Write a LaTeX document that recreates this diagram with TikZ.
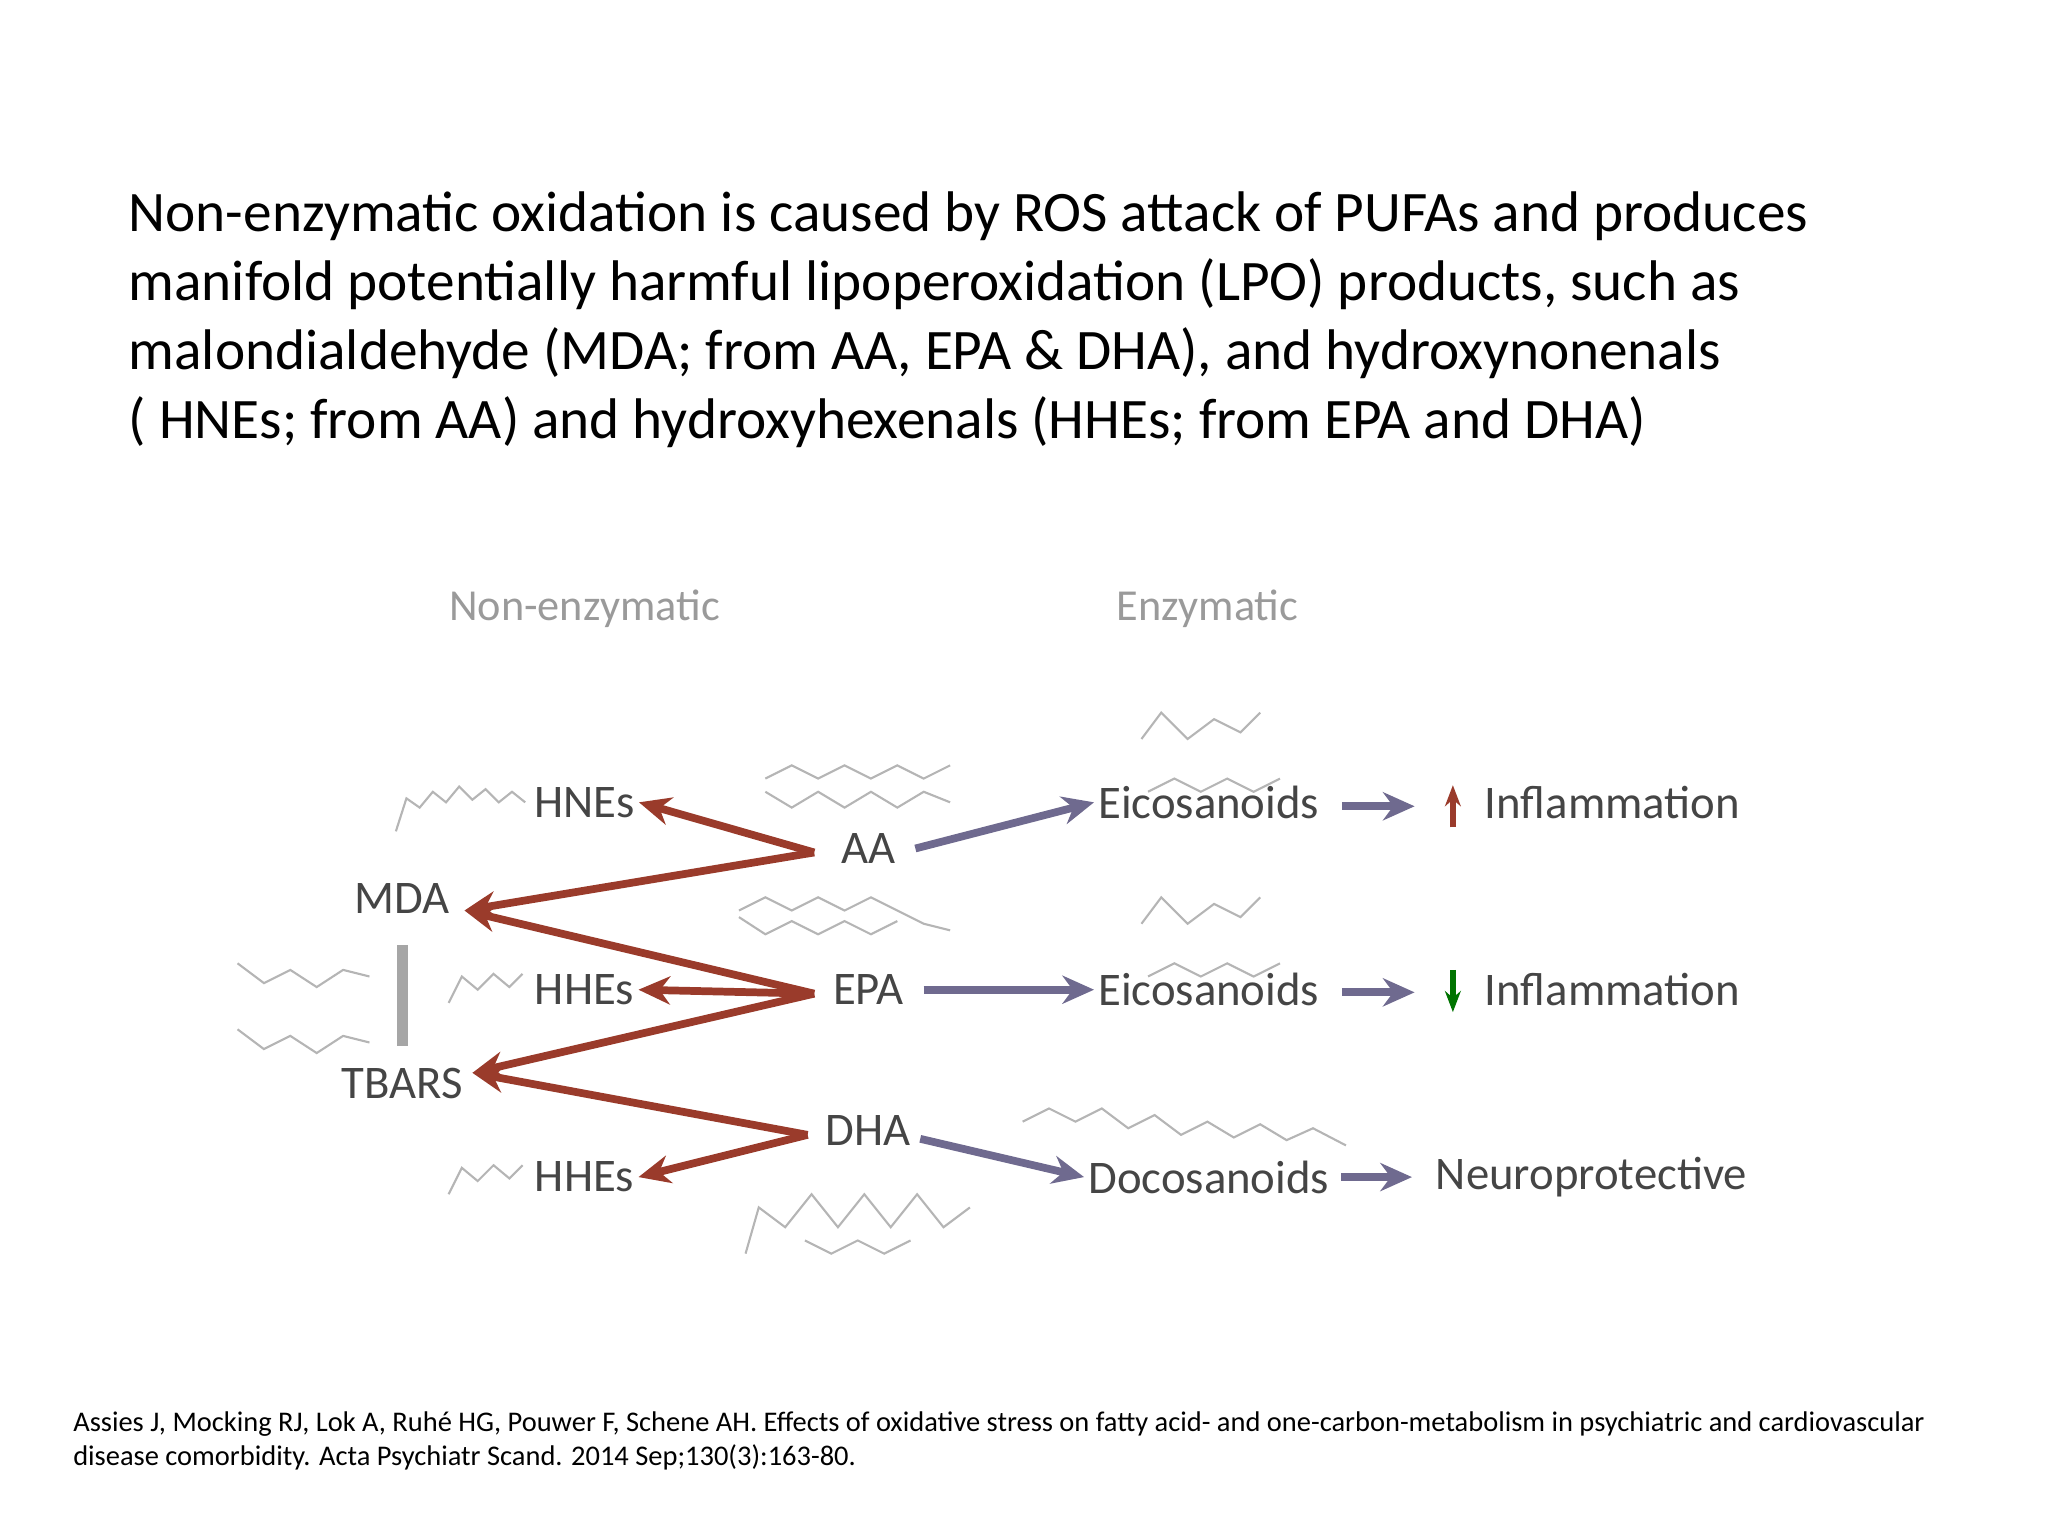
\documentclass[tikz,border=0pt]{standalone}
\usepackage{fontspec}
\setmainfont{Carlito}
\usetikzlibrary{arrows.meta}
\definecolor{rust}{HTML}{9A3B2B}
\definecolor{pur}{HTML}{6F6A8F}
\definecolor{lbl}{HTML}{454545}
\definecolor{hdr}{HTML}{9A9A9A}
\definecolor{chem}{HTML}{B5B5B5}
\tikzset{
 lab/.style={text=lbl,font=\fontsize{13.3}{15}\selectfont,inner sep=1pt},
 hd/.style={text=hdr,font=\fontsize{12.6}{14}\selectfont},
 rarr/.style={draw=rust,line width=2.2pt,-{Stealth[length=9pt,width=8pt]}},
 parr/.style={draw=pur,line width=2.2pt,-{Stealth[length=9pt,width=8pt]}},
 chm/.style={draw=chem,line width=0.6pt}
}
\begin{document}
\begin{tikzpicture}[x=0.013196cm,y=-0.013196cm]
\useasboundingbox (0,0) rectangle (1552,1164);
\node[anchor=north west,align=left,inner sep=0,font=\fontsize{16.3}{19.6}\selectfont] (title) at (97,145)
{Non-enzymatic oxidation is caused by ROS attack of PUFAs and produces\\
manifold potentially harmful lipoperoxidation (LPO) products, such as\\
malondialdehyde (MDA; from AA, EPA \& DHA), and hydroxynonenals\\
( HNEs; from AA) and hydroxyhexenals (HHEs; from EPA and DHA)};
\node[hd] (h1) at (443,461) {Non-enzymatic};
\node[hd] (h2) at (915,461) {Enzymatic};
\node[lab] (hne) at (443,608) {HNEs};
\node[lab] (mda) at (305,681) {MDA};
\node[lab] (hhe1) at (443,750) {HHEs};
\node[lab] (tbars) at (305,821) {TBARS};
\node[lab] (hhe2) at (443,892) {HHEs};
\node[lab] (aa) at (658,643) {AA};
\node[lab] (epa) at (658,750) {EPA};
\node[lab] (dha) at (658,857) {DHA};
\node[lab] (e1) at (916,608) {Eicosanoids};
\node[lab] (e2) at (916,750) {Eicosanoids};
\node[lab] (d1) at (916,892) {Docosanoids};
\node[lab,anchor=west] (i1) at (1122,608) {Inflammation};
\node[lab,anchor=west] (i2) at (1122,750) {Inflammation};
\node[lab,anchor=west] (np) at (1085,892) {Neuroprotective};
\coordinate (aaL) at (617,646);
\coordinate (epaL) at (617,753);
\coordinate (dhaL) at (612,860);
\draw[rarr] (aaL) -- (hne.east);
\draw[rarr] (aaL) -- (352,690);
\draw[rarr] (epaL) -- (352,690);
\draw[rarr] (epaL) -- (hhe1.east);
\draw[rarr] (epaL) -- (358,813);
\draw[rarr] (dhaL) -- (358,813);
\draw[rarr] (dhaL) -- (hhe2.east);
\draw[parr] (aa.east) ++(12,0) -- (e1.west);
\draw[parr] (epa.east) ++(12,0) -- (e2.west);
\draw[parr] (dha.east) ++(4,6) -- (d1.west);
\draw[parr] (e1.east) ++(14,3) -- (1072,611);
\draw[parr] (e2.east) ++(14,2) -- (1072,752);
\draw[parr] (d1.east) ++(6,0) -- (1070,892);
\draw[draw=rust,line width=1.6pt,-{Stealth[length=6pt]}] (1101,627) -- (1101,595);
\draw[draw=green!45!black,line width=1.6pt,-{Stealth[length=6pt]}] (1101,735) -- (1101,767);
\draw[draw=gray!70,line width=3pt] (305,716) -- (305,793);
% chemical sketches
\draw[chm] (300,630) -- (308,605) -- (318,612) -- (328,600) -- (338,608) -- (348,596) -- (358,606) -- (368,598) -- (378,608) -- (388,600) -- (398,608);
\draw[chm] (580,590) -- (600,580) -- (620,590) -- (640,580) -- (660,590) -- (680,580) -- (700,590) -- (720,580);
\draw[chm] (580,600) -- (600,612) -- (620,600) -- (640,612) -- (660,600) -- (680,612) -- (700,600) -- (720,608);
\draw[chm] (560,690) -- (580,680) -- (600,690) -- (620,680) -- (640,690) -- (660,680) -- (680,690) -- (700,700) -- (720,705);
\draw[chm] (560,695) -- (580,708) -- (600,698) -- (620,708) -- (640,698) -- (660,708) -- (680,698);
\draw[chm] (180,730) -- (200,745) -- (220,735) -- (240,748) -- (260,735) -- (280,740);
\draw[chm] (180,780) -- (200,795) -- (220,785) -- (240,798) -- (260,785) -- (280,790);
\draw[chm] (340,760) -- (350,740) -- (362,750) -- (374,738) -- (386,748) -- (396,738);
\draw[chm] (340,905) -- (350,885) -- (362,895) -- (374,883) -- (386,893) -- (396,883);
\draw[chm] (565,950) -- (575,915) -- (595,930) -- (615,905) -- (635,930) -- (655,905) -- (675,930) -- (695,905) -- (715,930) -- (735,915);
\draw[chm] (610,940) -- (630,950) -- (650,940) -- (670,950) -- (690,940);
\draw[chm] (865,560) -- (880,540) -- (900,560) -- (920,545) -- (940,555) -- (955,540);
\draw[chm] (870,600) -- (890,590) -- (910,600) -- (930,590) -- (950,600) -- (970,590);
\draw[chm] (865,700) -- (880,680) -- (900,700) -- (920,685) -- (940,695) -- (955,680);
\draw[chm] (870,740) -- (890,730) -- (910,740) -- (930,730) -- (950,740) -- (970,730);
\draw[chm] (775,850) -- (795,840) -- (815,850) -- (835,840) -- (855,855) -- (875,845) -- (895,860) -- (915,850) -- (935,862) -- (955,852) -- (975,864) -- (995,855) -- (1020,868);
\node[anchor=north west,align=left,inner sep=0,font=\fontsize{8.1}{9.8}\selectfont] (cite) at (55,1069)
{Assies J, Mocking RJ, Lok A, Ruhé HG, Pouwer F, Schene AH. Effects of oxidative stress on fatty acid- and one-carbon-metabolism in psychiatric and cardiovascular\\
disease comorbidity. Acta Psychiatr Scand. 2014 Sep;130(3):163-80.};
\end{tikzpicture}
\end{document}
